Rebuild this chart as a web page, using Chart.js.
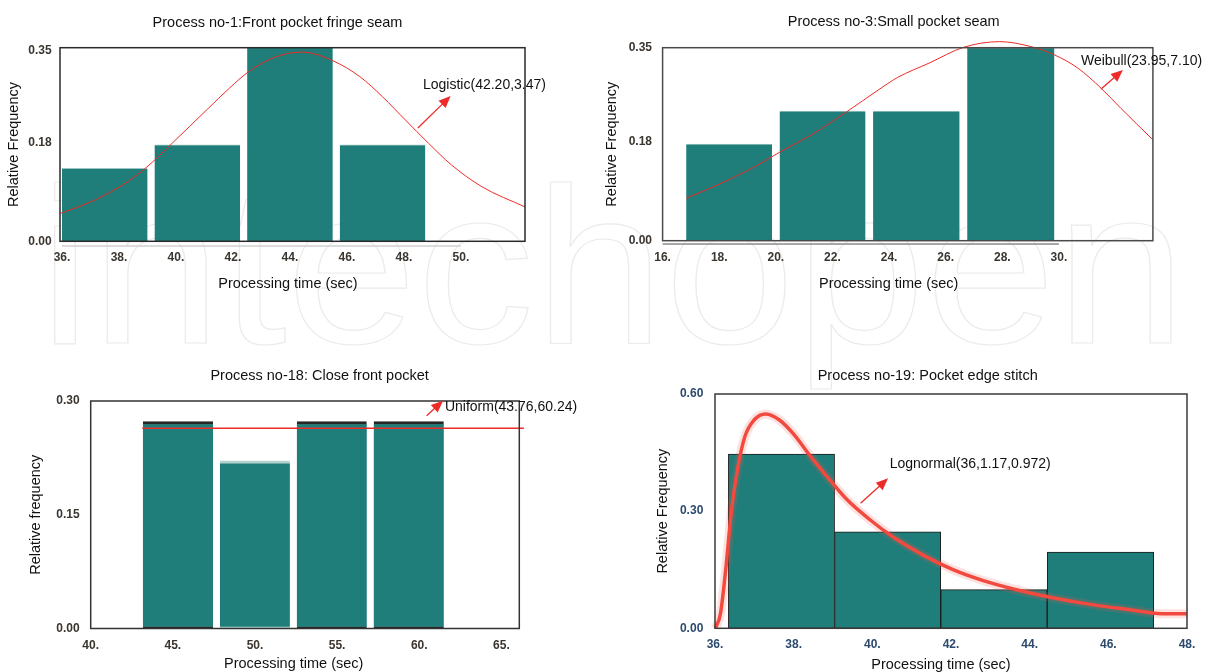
<!DOCTYPE html>
<html>
<head>
<meta charset="utf-8">
<script src="https://cdn.jsdelivr.net/npm/chart.js@4.4.1/dist/chart.umd.min.js"></script>
<style>
    html, body { margin: 0; padding: 0; background: #fff; }
    #page { position: relative; width: 1214px; height: 672px; overflow: hidden; }
    #page canvas, #page svg { position: absolute; left: 0; top: 0; }
</style>
</head>
<body>
<div id="page">
    <svg width="1214" height="672">
        <text x="39" y="343" textLength="1147" lengthAdjust="spacingAndGlyphs"
              font-family="Liberation Sans" font-size="223" fill="#fff" stroke="#ebebeb" stroke-width="1.2">intechopen</text>
    </svg>
    <canvas id="p1" width="1214" height="672"></canvas>
    <canvas id="p3" width="1214" height="672"></canvas>
    <canvas id="p18" width="1214" height="672"></canvas>
    <canvas id="p19" width="1214" height="672"></canvas>
</div>
<script>
// ========= Data =========
// Process no-1 (Logistic)
const p1BinMid = [37.5, 40.75, 44.0, 47.25];
const p1Freq = [0.134, 0.177, 0.36, 0.177];
const p1CurveX = [35.93, 36.91, 38.12, 38.93, 39.87, 41.08, 41.88, 42.55, 43.49, 44.43, 45.51, 46.45, 47.25, 48.06, 48.86, 49.67, 50.74, 52.25];
const p1CurveY = [0.051, 0.070, 0.103, 0.134, 0.180, 0.241, 0.281, 0.311, 0.338, 0.347, 0.331, 0.302, 0.265, 0.222, 0.180, 0.140, 0.100, 0.063];
const p1XTicks = [36, 38, 40, 42, 44, 46, 48, 50];
const p1YTicks = [0, 0.18, 0.35];

// Process no-3 (Weibull)
const p3BinMid = [18.35, 21.65, 24.95, 28.3];
const p3Freq = [0.175, 0.235, 0.235, 0.35];
const p3CurveX = [16.83, 17.94, 19.32, 20.15, 21.26, 22.51, 23.61, 24.30, 25.41, 26.65, 27.90, 29.01, 29.84, 30.67, 31.50, 32.19, 33.32];
const p3CurveY = [0.077, 0.101, 0.136, 0.161, 0.192, 0.234, 0.273, 0.296, 0.322, 0.351, 0.361, 0.352, 0.337, 0.313, 0.276, 0.240, 0.183];
const p3XTicks = [16, 18, 20, 22, 24, 26, 28, 30];
const p3YTicks = [0, 0.18, 0.35];

// Process no-18 (Uniform)
const p18BinMid = [45.31, 50.0, 54.67, 59.36];
const p18Freq = [0.273, 0.221, 0.273, 0.273];
const p18LineX = [43.14, 66.37];
const p18LineY = [0.264, 0.264];
const p18XTicks = [40, 45, 50, 55, 60, 65];
const p18YTicks = [0, 0.15, 0.30];

// Process no-19 (Lognormal)
const p19BinMid = [37.69, 40.39, 43.09, 45.80];
const p19Freq = [0.446, 0.247, 0.099, 0.195];
const p19CurveX = [36.01, 36.14, 36.28, 36.42, 36.57, 36.76, 37.00, 37.29, 37.63, 38.01, 38.40, 38.78, 39.36, 39.94, 40.51, 41.28, 42.05, 42.82, 43.69, 44.65, 45.62, 46.58, 47.25, 48.0];
const p19CurveY = [0.000, 0.038, 0.158, 0.303, 0.406, 0.491, 0.534, 0.549, 0.534, 0.496, 0.444, 0.397, 0.329, 0.278, 0.235, 0.188, 0.150, 0.122, 0.098, 0.077, 0.060, 0.047, 0.038, 0.037];
const p19XTicks = [36, 38, 40, 42, 44, 46, 48];
const p19YTicks = [0, 0.30, 0.60];

// ========= Defaults =========
Chart.defaults.font.family = "'Liberation Sans', Arial, sans-serif";
Chart.defaults.animation = false;
Chart.defaults.responsive = false;
Chart.defaults.plugins.legend.display = false;
Chart.defaults.plugins.tooltip.enabled = false;

const TEAL = "#1f7e7a";
const RED = "#ee2b28";

const zip = (xs, ys) => xs.map((x, i) => ({ x: x, y: ys[i] }));

// ========= Plugins =========
// dark box round the plot area (+ optional grey rule under the axis)
const framePlugin = {
    id: "frame",
    afterDatasetsDraw(chart, args, opts) {
        const { ctx, chartArea: a, scales: { x } } = chart;
        ctx.save();
        if (opts.rule) {
            const ticks = x.ticks;
            ctx.strokeStyle = opts.rule.color;
            ctx.lineWidth = 1.5;
            ctx.beginPath();
            ctx.moveTo(x.getPixelForValue(ticks[0].value), a.bottom + opts.rule.gap);
            ctx.lineTo(x.getPixelForValue(ticks[ticks.length - 1].value), a.bottom + opts.rule.gap);
            ctx.stroke();
        }
        ctx.strokeStyle = opts.color;
        ctx.lineWidth = opts.width;
        ctx.strokeRect(a.left, a.top, a.right - a.left, a.bottom - a.top);
        ctx.restore();
    },
};

// title, x caption and the red arrow with the fitted distribution
const notesPlugin = {
    id: "notes",
    afterDraw(chart, args, o) {
        const { ctx, scales: { x, y } } = chart;
        ctx.save();
        ctx.fillStyle = "#111";
        ctx.textAlign = "center";
        ctx.textBaseline = "middle";
        ctx.font = "14.5px 'Liberation Sans', Arial";
        ctx.fillText(o.title, o.titleAt[0], o.titleAt[1]);
        ctx.fillText(o.caption, o.captionAt[0], o.captionAt[1]);

        const x0 = x.getPixelForValue(o.arrow[0]);
        const y0 = y.getPixelForValue(o.arrow[1]);
        const x1 = x.getPixelForValue(o.arrow[2]);
        const y1 = y.getPixelForValue(o.arrow[3]);
        const ang = Math.atan2(y1 - y0, x1 - x0);
        ctx.strokeStyle = RED;
        ctx.fillStyle = RED;
        ctx.lineWidth = 1.3;
        ctx.beginPath();
        ctx.moveTo(x0, y0);
        ctx.lineTo(x1 - 8 * Math.cos(ang), y1 - 8 * Math.sin(ang));
        ctx.stroke();
        ctx.beginPath();
        ctx.moveTo(x1, y1);
        ctx.lineTo(x1 - 13 * Math.cos(ang - 0.4), y1 - 13 * Math.sin(ang - 0.4));
        ctx.lineTo(x1 - 13 * Math.cos(ang + 0.4), y1 - 13 * Math.sin(ang + 0.4));
        ctx.closePath();
        ctx.fill();

        ctx.fillStyle = "#111";
        ctx.textAlign = "left";
        ctx.font = "14px 'Liberation Sans', Arial";
        ctx.fillText(o.note, x.getPixelForValue(o.noteAt[0]), y.getPixelForValue(o.noteAt[1]));
        ctx.restore();
    },
};

// ========= Helper =========
function histogram(id, o) {
    return new Chart(document.getElementById(id), {
        type: "bar",
        data: {
            datasets: o.lines.concat([
                {
                    type: "bar",
                    data: zip(o.binMid, o.freq),
                    backgroundColor: TEAL,
                    borderColor: o.barEdge,
                    borderWidth: o.barBorder,
                    borderSkipped: o.skip,
                    barThickness: "flex",
                    categoryPercentage: 1,
                    barPercentage: o.barFill,
                    order: 5,
                },
            ]),
        },
        options: {
            layout: { padding: o.padding },
            plugins: { frame: o.frame, notes: o.notes },
            scales: {
                x: {
                    type: "linear",
                    offset: false,
                    min: o.xRange[0],
                    max: o.xRange[1],
                    afterBuildTicks: (s) => { s.ticks = o.xTicks.map((v) => ({ value: v })); },
                    afterFit: (s) => { s.height = 40; },
                    grid: { display: false, drawTicks: false, offset: false },
                    border: { display: false },
                    ticks: {
                        autoSkip: false,
                        maxRotation: 0,
                        padding: 9.5,
                        color: o.tickColor,
                        font: { size: 12, weight: "bold" },
                        callback: (v) => v + ".",
                    },
                },
                y: {
                    min: 0,
                    max: o.yMax,
                    afterBuildTicks: (s) => { s.ticks = o.yTicks.map((v) => ({ value: v })); },
                    afterFit: (s) => { s.width = o.yWidth; },
                    grid: { display: false, drawTicks: false },
                    border: { display: false },
                    ticks: {
                        padding: o.yPad,
                        color: o.tickColor,
                        font: { size: 12, weight: "bold" },
                        callback: (v) => v.toFixed(2),
                    },
                    title: {
                        display: true,
                        text: o.yTitle,
                        color: "#111",
                        padding: 0,
                        font: { size: 14.5 },
                    },
                },
            },
        },
        plugins: [framePlugin, notesPlugin],
    });
}

const thinCurve = (xs, ys, width) => ({
    type: "line",
    data: zip(xs, ys),
    borderColor: RED,
    borderWidth: width,
    pointRadius: 0,
    cubicInterpolationMode: "monotone",
    clip: false,
    order: 1,
});

// ========= Process no-1 =========
histogram("p1", {
    binMid: p1BinMid,
    freq: p1Freq,
    lines: [thinCurve(p1CurveX, p1CurveY, 1)],
    barEdge: "#9cc6c3",
    barBorder: { top: 1, left: 0, right: 0, bottom: 0 },
    skip: "start",
    barFill: 0.923,
    xRange: [35.93, 52.25],
    yMax: 0.355,
    xTicks: p1XTicks,
    yTicks: p1YTicks,
    padding: { left: 5.3, top: 47.7, right: 689, bottom: 390.7 },
    yWidth: 54.7,
    yPad: 8.3,
    tickColor: "#3b3530",
    yTitle: "Relative Frequency",
    frame: { color: "#2a2a2a", width: 1.5, rule: { color: "#cfcfcf", gap: 4.7 } },
    notes: {
        title: "Process no-1:Front pocket fringe seam",
        titleAt: [277.5, 23],
        caption: "Processing time (sec)",
        captionAt: [288, 284],
        note: "Logistic(42.20,3.47)",
        noteAt: [48.67, 0.2866],
        arrow: [48.49, 0.2078, 49.64, 0.2664],
    },
});

// ========= Process no-3 =========
histogram("p3", {
    binMid: p3BinMid,
    freq: p3Freq,
    lines: [thinCurve(p3CurveX, p3CurveY, 1)],
    barEdge: "#9cc6c3",
    barBorder: { top: 1, left: 0, right: 0, bottom: 0 },
    skip: "start",
    barFill: 0.918,
    xRange: [16, 33.32],
    yMax: 0.35,
    xTicks: p3XTicks,
    yTicks: p3YTicks,
    padding: { left: 603, top: 47.7, right: 61.1, bottom: 391.3 },
    yWidth: 59.6,
    yPad: 10.6,
    tickColor: "#3b3530",
    yTitle: "Relative Frequency",
    frame: { color: "#4a4a4a", width: 1.5, rule: { color: "#8a8a8a", gap: 3.3 } },
    notes: {
        title: "Process no-3:Small pocket seam",
        titleAt: [893.7, 22],
        caption: "Processing time (sec)",
        captionAt: [888.7, 284],
        note: "Weibull(23.95,7.10)",
        noteAt: [30.78, 0.326],
        arrow: [31.49, 0.275, 32.26, 0.3096],
    },
});

// ========= Process no-18 =========
histogram("p18", {
    binMid: p18BinMid,
    freq: p18Freq,
    lines: [thinCurve(p18LineX, p18LineY, 1.5)],
    barEdge: ["#262626", "#b5d2cf", "#262626", "#262626"],
    barBorder: { top: 3, left: 0, right: 0, bottom: 2 },
    skip: false,
    barFill: 0.91,
    xRange: [40, 66.09],
    yMax: 0.30,
    xTicks: p18XTicks,
    yTicks: p18YTicks,
    padding: { left: 26.9, top: 401, right: 694.7, bottom: 3.5 },
    yWidth: 63.8,
    yPad: 11,
    tickColor: "#3b3530",
    yTitle: "Relative frequency",
    frame: { color: "#333", width: 1.5 },
    notes: {
        title: "Process no-18: Close front pocket",
        titleAt: [319.6, 376],
        caption: "Processing time (sec)",
        captionAt: [293.7, 664],
        note: "Uniform(43.76,60.24)",
        noteAt: [61.56, 0.2917],
        arrow: [60.45, 0.2806, 61.45, 0.3004],
    },
});

// ========= Process no-19 =========
histogram("p19", {
    binMid: p19BinMid,
    freq: p19Freq,
    lines: [
        Object.assign(thinCurve(p19CurveX, p19CurveY, 9), { borderColor: "rgba(245, 90, 80, 0.18)", order: 2 }),
        Object.assign(thinCurve(p19CurveX, p19CurveY, 3.5), { borderColor: "#f24a3f" }),
    ],
    barEdge: "#1b1b1b",
    barBorder: 1,
    skip: false,
    barFill: 1,
    xRange: [36, 48],
    yMax: 0.60,
    xTicks: p19XTicks,
    yTicks: p19YTicks,
    padding: { left: 654.1, top: 394, right: 27, bottom: 3.7 },
    yWidth: 60.9,
    yPad: 11.7,
    tickColor: "#2c4a6e",
    yTitle: "Relative Frequency",
    frame: { color: "#3a3a3a", width: 1.5 },
    notes: {
        title: "Process no-19: Pocket edge stitch",
        titleAt: [927.7, 376],
        caption: "Processing time (sec)",
        captionAt: [941, 665],
        note: "Lognormal(36,1.17,0.972)",
        noteAt: [40.44, 0.42],
        arrow: [39.70, 0.320, 40.40, 0.384],
    },
});
</script>
</body>
</html>
